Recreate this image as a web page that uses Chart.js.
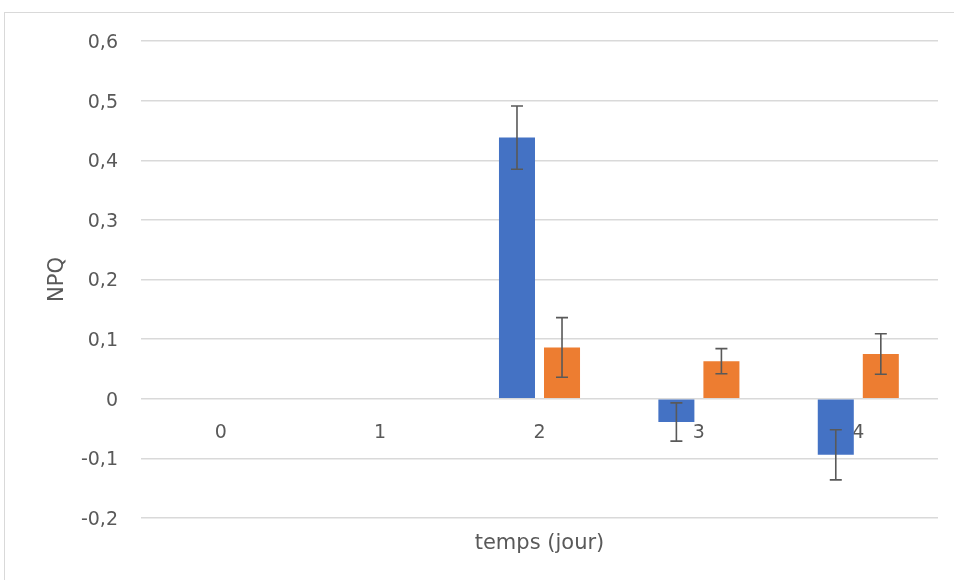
<!DOCTYPE html>
<html lang="fr">

<head>
  <meta charset="UTF-8" />
  <title>NPQ</title>
  <style>
    * {
      margin: 0;
      padding: 0;
    }

    body {
      width: 954px;
      height: 580px;
      overflow: hidden;
      background: #ffffff;
      position: relative;
    }

    .frame {
      position: absolute;
      left: 4px;
      top: 12px;
      width: 950px;
      height: 568px;
      border-left: 1px solid #d9d9d9;
      border-top: 1px solid #d9d9d9;
    }

    .chartBox {
      position: absolute;
      left: 0;
      top: 0;
      width: 954px;
      height: 580px;
    }
  </style>
</head>

<body>
  <div class="frame"></div>
  <div class="chartBox">
    <canvas id="myChart"></canvas>
  </div>
  <script src="https://cdn.jsdelivr.net/npm/chart.js@4"></script>
  <script>
    const labels = ["0", "1", "2", "3", "4"];

    const serieA = [0, 0, 0.438, -0.039, -0.094];
    const erreurA = [0, 0, 0.053, 0.032, 0.042];

    const serieB = [0, 0, 0.086, 0.063, 0.075];
    const erreurB = [0, 0, 0.05, 0.021, 0.034];

    const textColor = "#595959";
    const fontFamily = "'DejaVu Sans', sans-serif";

    // barres d'erreur dessinées après les barres
    const errorBars = {
      id: "errorBars",
      afterDatasetsDraw(chart) {
        const ctx = chart.ctx;
        const yScale = chart.scales.y;
        chart.data.datasets.forEach((ds, di) => {
          const meta = chart.getDatasetMeta(di);
          meta.data.forEach((bar, i) => {
            const err = ds.errors[i];
            if (!err) return;
            const v = ds.data[i];
            const top = yScale.getPixelForValue(v + err);
            const bottom = yScale.getPixelForValue(v - err);
            ctx.save();
            ctx.strokeStyle = textColor;
            ctx.lineWidth = 1.6;
            ctx.beginPath();
            ctx.moveTo(bar.x, top);
            ctx.lineTo(bar.x, bottom);
            ctx.moveTo(bar.x - 6, top);
            ctx.lineTo(bar.x + 6, top);
            ctx.moveTo(bar.x - 6, bottom);
            ctx.lineTo(bar.x + 6, bottom);
            ctx.stroke();
            ctx.restore();
          });
        });
      },
    };

    const data = {
      labels: labels,
      datasets: [
        {
          label: "Série 1",
          data: serieA,
          errors: erreurA,
          backgroundColor: "#4472c4",
          categoryPercentage: 0.565,
          barPercentage: 0.8,
        },
        {
          label: "Série 2",
          data: serieB,
          errors: erreurB,
          backgroundColor: "#ed7d31",
          categoryPercentage: 0.565,
          barPercentage: 0.8,
        },
      ],
    };

    const options = {
      responsive: true,
      maintainAspectRatio: false,
      animation: false,
      layout: {
        padding: { top: 41, right: 16, bottom: 0, left: 0 },
      },
      scales: {
        x: {
          position: { y: 0 },
          grid: { display: false, drawTicks: false },
          border: { display: false },
          ticks: {
            color: textColor,
            padding: 23,
            font: { family: fontFamily, size: 19 },
          },
        },
        x2: {
          position: "bottom",
          type: "category",
          grid: { display: false, drawTicks: false },
          border: { display: false },
          ticks: { display: false },
          title: {
            display: true,
            text: "temps (jour)",
            color: textColor,
            padding: { top: 0, bottom: 24 },
            font: { family: fontFamily, size: 21 },
          },
          afterFit: function (scale) {
            scale.height = 62;
          },
        },
        y: {
          min: -0.2,
          max: 0.6,
          grid: {
            color: "#d9d9d9",
            lineWidth: 1.4,
            drawTicks: false,
          },
          border: { display: false },
          ticks: {
            stepSize: 0.1,
            color: textColor,
            padding: 23,
            labelOffset: 2,
            font: { family: fontFamily, size: 19 },
            callback: function (value) {
              if (Math.abs(value) < 1e-9) return "0";
              return value.toFixed(1).replace(".", ",");
            },
          },
          title: {
            display: true,
            text: "NPQ",
            color: textColor,
            padding: { top: 45, bottom: 0 },
            font: { family: fontFamily, size: 21 },
          },
          afterFit: function (scale) {
            scale.width = 141;
          },
        },
      },
      plugins: {
        legend: { display: false },
        tooltip: { enabled: false },
      },
    };

    const ctx = document.getElementById("myChart").getContext("2d");
    const myChart = new Chart(ctx, {
      type: "bar",
      data: data,
      options: options,
      plugins: [errorBars],
    });
  </script>
</body>

</html>
